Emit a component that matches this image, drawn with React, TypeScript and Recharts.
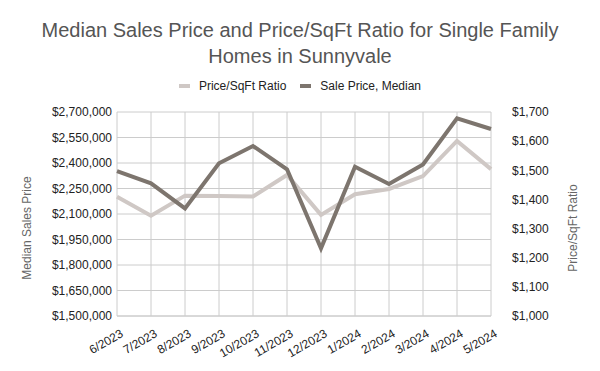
import React from 'react';
import { LineChart, Line, XAxis, YAxis, CartesianGrid } from 'recharts';

const months = ['6/2023', '7/2023', '8/2023', '9/2023', '10/2023', '11/2023', '12/2023', '1/2024', '2/2024', '3/2024', '4/2024', '5/2024'];
const salePriceMedian = [2352000, 2280000, 2133000, 2398000, 2500000, 2363000, 1898000, 2378000, 2276000, 2392000, 2663000, 2600000];
const pricePerSqFt = [1409, 1344, 1413, 1412, 1410, 1484, 1347, 1418, 1436, 1480, 1601, 1504];
const leftTicks = [1500000, 1650000, 1800000, 1950000, 2100000, 2250000, 2400000, 2550000, 2700000];
const rightTicks = [1000, 1100, 1200, 1300, 1400, 1500, 1600, 1700];

const data = months.map((m, i) => ({ month: m, sale: salePriceMedian[i], ratio: pricePerSqFt[i] }));

const FONT = '"Liberation Sans", Arial, sans-serif';
const DARK = '#7d756e';
const LIGHT = '#cfc8c5';

const fmt = (v: number) => '$' + v.toLocaleString('en-US');

const XTick = (props: any) => {
  const { x, y, payload } = props;
  return (
    <text
      x={x + 7}
      y={y + 12}
      transform={`rotate(-30, ${x + 7}, ${y + 12})`}
      textAnchor="end"
      fontSize={12}
      fill="#222"
      fontFamily={FONT}
    >
      {payload.value}
    </text>
  );
};

export default function App() {
  return (
    <div style={{ position: 'absolute', left: 0, top: 0, width: 600, height: 371, fontFamily: FONT, background: '#fff' }}>
      <div style={{ position: 'absolute', left: 0, top: 17, width: 600, textAlign: 'center', fontSize: 20, lineHeight: '26px', color: '#555' }}>
        Median Sales Price and Price/SqFt Ratio for Single Family<br />Homes in Sunnyvale
      </div>
      <div style={{ position: 'absolute', left: 0, top: 78, width: 600, display: 'flex', justifyContent: 'center', fontSize: 12, color: '#222', lineHeight: '16px' }}>
        <span style={{ display: 'flex', alignItems: 'center', marginRight: 14 }}>
          <span style={{ display: 'inline-block', width: 11, height: 4, background: LIGHT, marginRight: 9 }} />
          Price/SqFt Ratio
        </span>
        <span style={{ display: 'flex', alignItems: 'center' }}>
          <span style={{ display: 'inline-block', width: 11, height: 4, background: DARK, marginRight: 9 }} />
          Sale Price, Median
        </span>
      </div>
      <div style={{ position: 'absolute', left: 27, top: 228, transform: 'translate(-50%, -50%) rotate(-90deg)', fontSize: 12, color: '#666', whiteSpace: 'nowrap' }}>
        Median Sales Price
      </div>
      <div style={{ position: 'absolute', left: 573, top: 228, transform: 'translate(-50%, -50%) rotate(-90deg)', fontSize: 12, color: '#666', whiteSpace: 'nowrap' }}>
        Price/SqFt Ratio
      </div>
      <div style={{ position: 'absolute', left: 0, top: 0 }}>
        <LineChart width={600} height={371} data={data} margin={{ top: 112, right: 0, bottom: 0, left: 0 }}>
          <CartesianGrid stroke="#cccccc" yAxisId="left" />
          <XAxis
            dataKey="month"
            height={55}
            interval={0}
            tick={<XTick />}
            tickLine={false}
            axisLine={{ stroke: '#cccccc' }}
          />
          <YAxis
            yAxisId="left"
            orientation="left"
            width={117}
            domain={[1500000, 2700000]}
            ticks={leftTicks}
            tickFormatter={fmt}
            tickLine={false}
            tickSize={0}
            tickMargin={5}
            axisLine={false}
            tick={{ fontSize: 12, fill: '#222', fontFamily: FONT }}
          />
          <YAxis
            yAxisId="right"
            orientation="right"
            width={109}
            domain={[1000, 1700]}
            ticks={rightTicks}
            tickFormatter={fmt}
            tickLine={false}
            tickSize={0}
            tickMargin={21}
            axisLine={false}
            tick={{ fontSize: 12, fill: '#222', fontFamily: FONT, textAnchor: 'start' }}
          />
          <Line yAxisId="right" dataKey="ratio" stroke={LIGHT} strokeWidth={4} dot={false} isAnimationActive={false} />
          <Line yAxisId="left" dataKey="sale" stroke={DARK} strokeWidth={4} dot={false} isAnimationActive={false} />
        </LineChart>
      </div>
    </div>
  );
}
